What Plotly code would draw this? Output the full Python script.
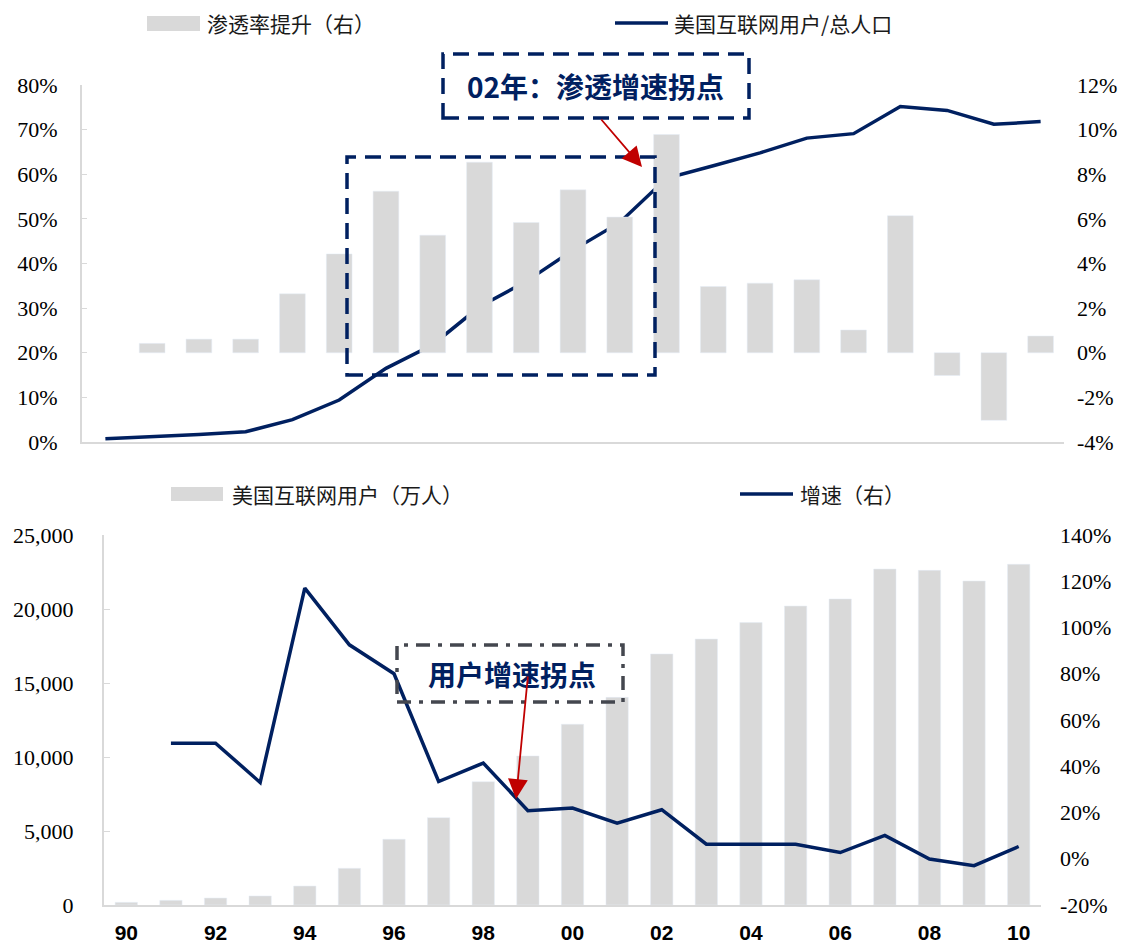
import plotly.graph_objects as go

W, H = 1130, 946

years = list(range(1990, 2011))
# top chart
penetration_pct = [0.75, 1.2, 1.7, 2.3, 5.0, 9.4, 16.5, 21.8, 30.3, 36.0, 43.0, 49.2, 59.1,
                   61.9, 64.8, 68.1, 69.1, 75.2, 74.3, 71.2, 71.8]
pen_change_pct = [None, 0.42, 0.61, 0.61, 2.64, 4.43, 7.24, 5.27, 8.54, 5.84, 7.3, 6.08, 9.78,
                  2.97, 3.12, 3.27, 1.02, 6.14, -1.02, -3.03, 0.75]
# bottom chart
users_wan = [180, 315, 470, 610, 1280, 2480, 4440, 5900, 8330, 10070, 12210, 14030, 16960,
             17970, 19080, 20200, 20680, 22700, 22610, 21890, 23020]
growth_pct = [None, 50, 50, 33, 117, 92.5, 80, 33.4, 41.4, 20.8, 21.9, 15.4, 21.2,
              6.3, 6.3, 6.3, 2.7, 10.1, -0.1, -3.0, 5.3]
xtick_vals = [1990, 1992, 1994, 1996, 1998, 2000, 2002, 2004, 2006, 2008, 2010]
xtick_text = ["90", "92", "94", "96", "98", "00", "02", "04", "06", "08", "10"]
top_right_ticks = [-4, -2, 0, 2, 4, 6, 8, 10, 12]
bot_right_ticks = [-20, 0, 20, 40, 60, 80, 100, 120, 140]

NAVY = "#002060"
GRAY = "#d9d9d9"
RED = "#c00000"
CJK = "Noto Sans CJK SC"
SERIF = "Liberation Serif"


def px(x):
    return x / W


def py(y):
    return 1 - y / H


def pct_labels(vals):
    return [f"{v}%" for v in vals]


fig = go.Figure()

fig.add_trace(go.Bar(x=years, y=[None if v is None else v / 100 for v in pen_change_pct],
                     xaxis="x", yaxis="y2", marker_color=GRAY, width=0.55,
                     name="渗透率提升（右）", showlegend=False))
fig.add_trace(go.Scatter(x=years, y=[v / 100 for v in penetration_pct], xaxis="x", yaxis="y",
                         mode="lines", line=dict(color=NAVY, width=3.5),
                         name="美国互联网用户/总人口", showlegend=False))
fig.add_trace(go.Bar(x=years, y=users_wan, xaxis="x2", yaxis="y3", marker_color=GRAY,
                     width=0.5, name="美国互联网用户（万人）", showlegend=False))
fig.add_trace(go.Scatter(x=years, y=[None if v is None else v / 100 for v in growth_pct],
                         xaxis="x2", yaxis="y4", mode="lines",
                         line=dict(color=NAVY, width=3.5), name="增速（右）", showlegend=False))

tick_font = dict(family=SERIF, size=22, color="#000")

top_x = [px(82), px(1064)]
top_y = [py(442), py(85)]
bot_x = [px(104), px(1041)]
bot_y = [py(905), py(535)]

fig.update_layout(
    width=W, height=H,
    margin=dict(l=0, r=0, t=0, b=0),
    paper_bgcolor="white", plot_bgcolor="white",
    xaxis=dict(domain=top_x, anchor="y", range=[1989.5, 2010.5], showticklabels=False,
               showgrid=False, zeroline=False, showline=True, linecolor=GRAY, linewidth=2,
               ticks=""),
    yaxis=dict(domain=top_y, anchor="x", range=[0, 0.8], dtick=0.1, tickformat=".0%",
               showgrid=False, zeroline=False, showline=True, linecolor=GRAY, linewidth=2,
               ticks="inside", ticklen=5, tickcolor=GRAY, tickfont=tick_font,
               ticklabelstandoff=18, automargin=False),
    yaxis2=dict(overlaying="y", side="right", anchor="x", range=[-0.04, 0.12],
                tickvals=[v / 100 for v in top_right_ticks],
                ticktext=pct_labels(top_right_ticks),
                showgrid=False, zeroline=False, showline=False,
                tickfont=tick_font, ticklabelstandoff=12, automargin=False),
    xaxis2=dict(domain=bot_x, anchor="y3", range=[1989.5, 2010.5], tickvals=xtick_vals,
                ticktext=xtick_text, showgrid=False, zeroline=False, showline=True,
                linecolor=GRAY, linewidth=2, ticks="",
                tickfont=dict(family="Liberation Sans", size=21, color="#000", weight="bold"),
                ticklabelstandoff=8, automargin=False),
    yaxis3=dict(domain=bot_y, anchor="x2", range=[0, 25000], dtick=5000, tickformat=",",
                showgrid=False, zeroline=False, showline=True, linecolor=GRAY, linewidth=2,
                ticks="inside", ticklen=6, tickcolor=GRAY, tickfont=tick_font,
                ticklabelstandoff=24, automargin=False),
    yaxis4=dict(overlaying="y3", side="right", anchor="x2", range=[-0.2, 1.4],
                tickvals=[v / 100 for v in bot_right_ticks],
                ticktext=pct_labels(bot_right_ticks),
                showgrid=False, zeroline=False, showline=False,
                tickfont=tick_font, ticklabelstandoff=18, automargin=False),
)

shapes = []
annotations = []

# manual legends
legend_font = dict(family=CJK, size=21, color="#1a1a1a")
shapes.append(dict(type="rect", xref="paper", yref="paper", x0=px(147), x1=px(200),
                   y0=py(31), y1=py(16), fillcolor=GRAY, line=dict(width=0)))
annotations.append(dict(xref="paper", yref="paper", x=px(205), y=py(23), text="渗透率提升（右）",
                        showarrow=False, xanchor="left", yanchor="middle", font=legend_font))
shapes.append(dict(type="line", xref="paper", yref="paper", x0=px(615), x1=px(668),
                   y0=py(23), y1=py(23), line=dict(color=NAVY, width=3.5)))
annotations.append(dict(xref="paper", yref="paper", x=px(672), y=py(23),
                        text="美国互联网用户/总人口", showarrow=False, xanchor="left",
                        yanchor="middle", font=legend_font))

shapes.append(dict(type="rect", xref="paper", yref="paper", x0=px(171), x1=px(223),
                   y0=py(501), y1=py(487), fillcolor=GRAY, line=dict(width=0)))
annotations.append(dict(xref="paper", yref="paper", x=px(230), y=py(494),
                        text="美国互联网用户（万人）", showarrow=False, xanchor="left",
                        yanchor="middle", font=legend_font))
shapes.append(dict(type="line", xref="paper", yref="paper", x0=px(740), x1=px(793),
                   y0=py(494), y1=py(494), line=dict(color=NAVY, width=3.5)))
annotations.append(dict(xref="paper", yref="paper", x=px(798), y=py(494), text="增速（右）",
                        showarrow=False, xanchor="left", yanchor="middle", font=legend_font))

# callout boxes
dash_navy = dict(color=NAVY, width=3.5, dash="16px,9px")
shapes.append(dict(type="rect", xref="paper", yref="paper", x0=px(443), x1=px(749),
                   y0=py(118), y1=py(54), line=dash_navy, fillcolor="rgba(0,0,0,0)"))
shapes.append(dict(type="rect", xref="paper", yref="paper", x0=px(347), x1=px(655),
                   y0=py(375), y1=py(157), line=dash_navy, fillcolor="rgba(0,0,0,0)"))
annotations.append(dict(xref="paper", yref="paper", x=px(595), y=py(86),
                        text="<b>02年：渗透增速拐点</b>", showarrow=False,
                        xanchor="center", yanchor="middle",
                        font=dict(family=CJK, size=28, color=NAVY)))
annotations.append(dict(xref="paper", yref="paper", x=px(642), y=py(167), text="",
                        showarrow=True, arrowhead=2, arrowsize=2.2, arrowwidth=1.8,
                        arrowcolor=RED, ax=-42, ay=-49, axref="pixel", ayref="pixel"))

shapes.append(dict(type="rect", xref="paper", yref="paper", x0=px(397), x1=px(623),
                   y0=py(702), y1=py(645),
                   line=dict(color="#44474f", width=3.5, dash="14px,8px,4px,8px"),
                   fillcolor="rgba(0,0,0,0)"))
annotations.append(dict(xref="paper", yref="paper", x=px(512), y=py(674),
                        text="<b>用户增速拐点</b>", showarrow=False,
                        xanchor="center", yanchor="middle",
                        font=dict(family=CJK, size=28, color=NAVY)))
annotations.append(dict(xref="paper", yref="paper", x=px(516), y=py(799), text="",
                        showarrow=True, arrowhead=2, arrowsize=2.2, arrowwidth=1.8,
                        arrowcolor=RED, ax=12, ay=-124, axref="pixel", ayref="pixel"))

fig.update_layout(shapes=shapes, annotations=annotations)

fig.write_html("out.html")
